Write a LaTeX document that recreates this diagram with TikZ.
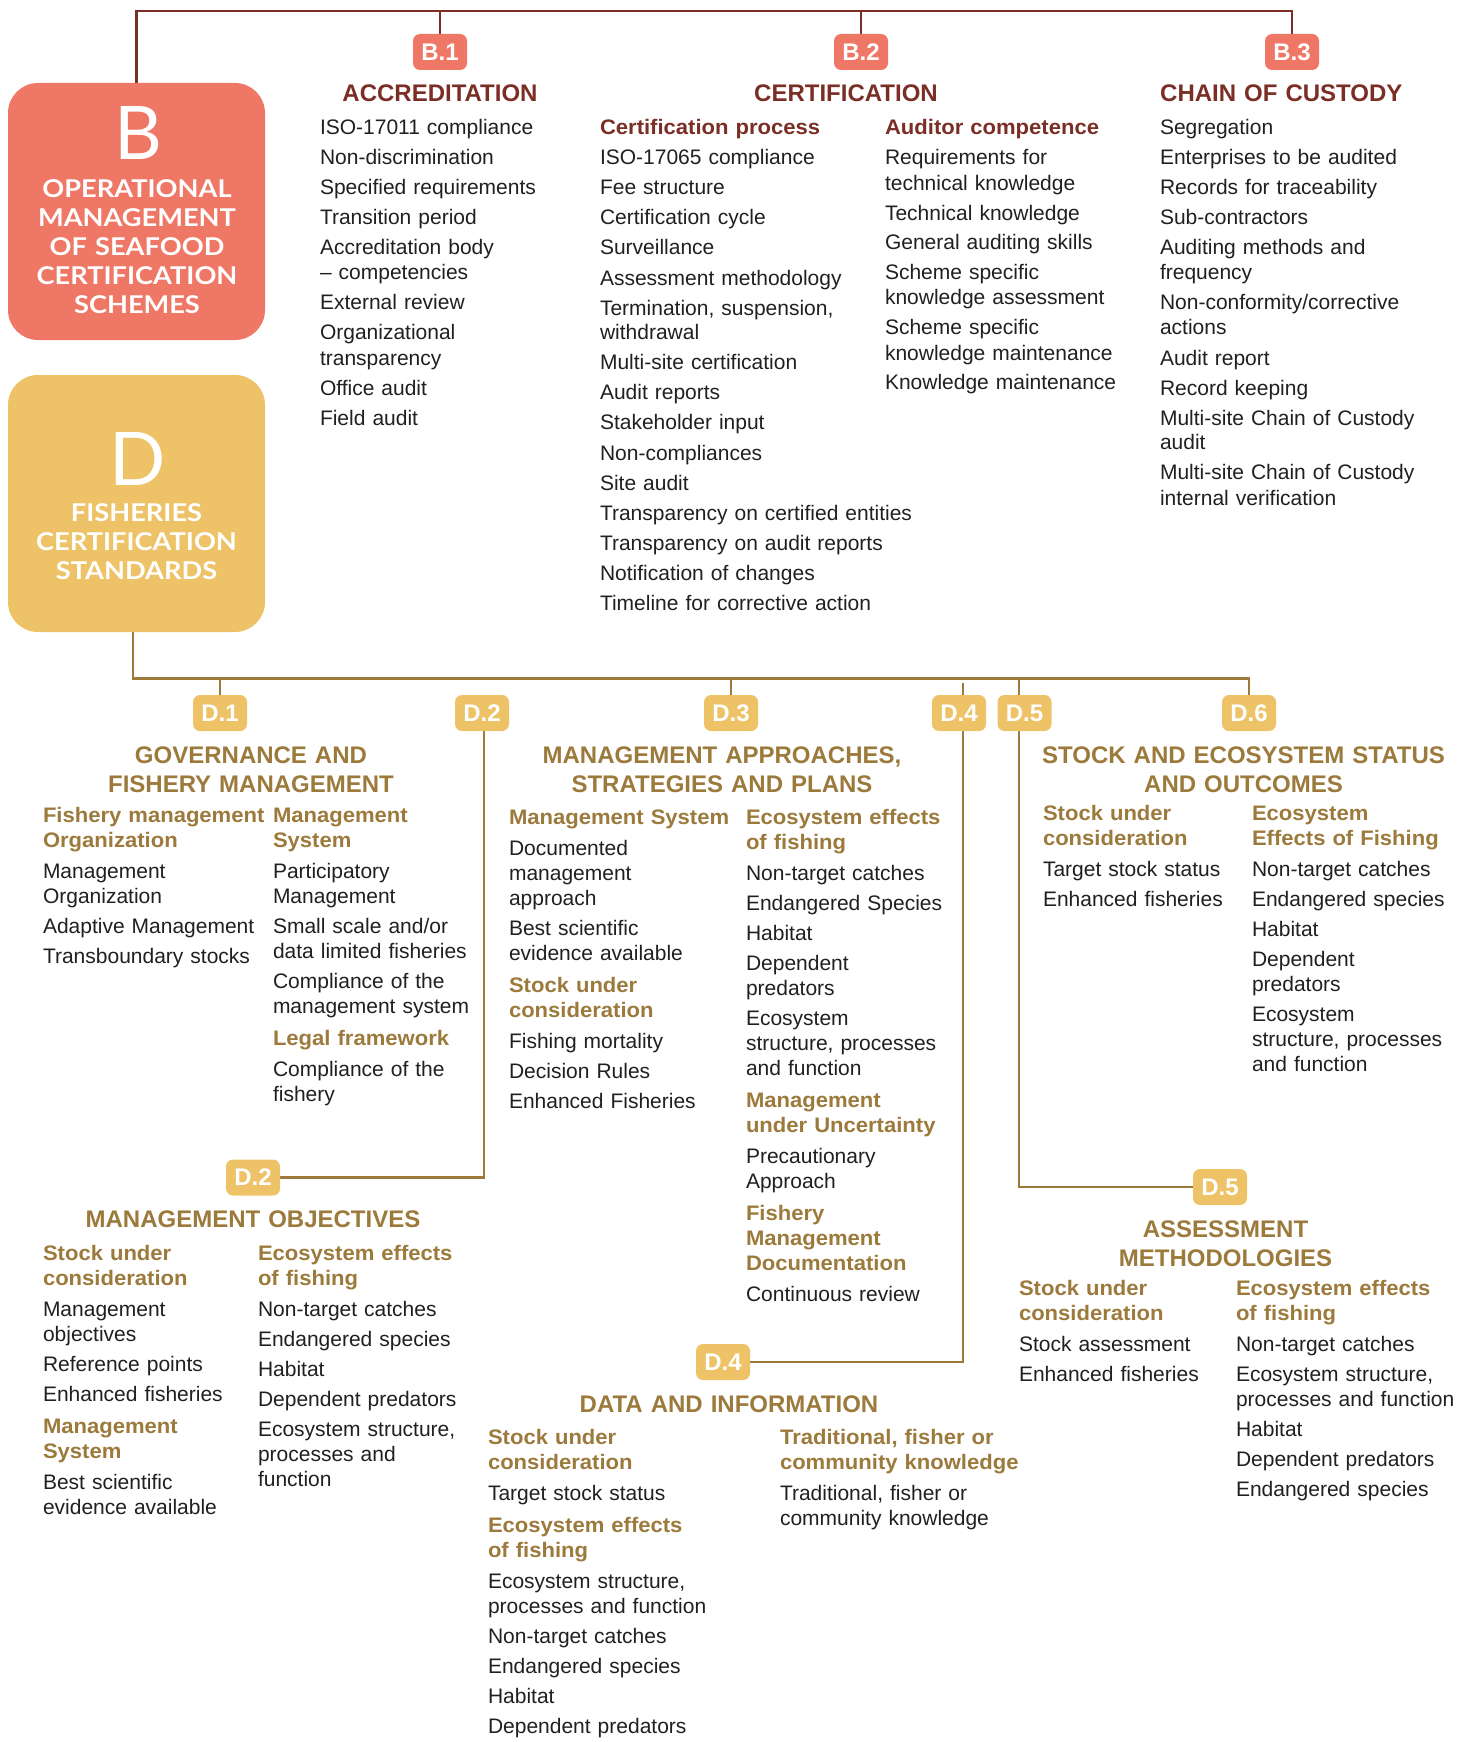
\documentclass[tikz,border=0pt]{standalone}
\usepackage{fontspec}
\setmainfont{Liberation Sans}
\newfontfamily\subfont[FakeStretch=1.05]{Liberation Sans}
\newfontfamily\boxfont{Lato}
\newfontfamily\boxwide[FakeStretch=1.11]{Lato}
\usetikzlibrary{backgrounds}
\definecolor{bsal}{HTML}{EE7766}
\definecolor{dyel}{HTML}{EEC266}
\definecolor{bred}{HTML}{7A2E25}
\definecolor{dgold}{HTML}{9C7A3C}
\definecolor{txt}{HTML}{231F20}
\newcommand\bodyfont{\fontsize{21}{25}\selectfont}
\newcommand\hdfont{\fontsize{24}{29}\selectfont\bfseries}
\newcommand\shB[1]{{\subfont\bfseries\color{bred}#1}}
\newcommand\shD[1]{{\subfont\bfseries\color{dgold}#1}}
\tikzset{
  col/.style={anchor=base west, inner sep=0pt, outer sep=0pt, align=left, text width=#1, font=\bodyfont, text=txt},
  hdB/.style={anchor=base, inner sep=0pt, align=center, text width=#1, font=\hdfont, text=bred},
  hdD/.style={anchor=base, inner sep=0pt, align=center, text width=#1, font=\hdfont, text=dgold},
  badgeB/.style={rounded corners=7pt, fill=bsal, minimum width=54pt, minimum height=36pt, inner sep=0pt, text=white, font=\fontsize{24}{28}\selectfont\bfseries},
  badgeD/.style={rounded corners=7pt, fill=dyel, minimum width=54pt, minimum height=36pt, inner sep=0pt, text=white, font=\fontsize{24}{28}\selectfont\bfseries},
  bigbox/.style={rounded corners=30pt, minimum width=257pt, minimum height=257pt, inner sep=0pt},
  lineB/.style={draw=bred, line width=2.6pt},
  lineD/.style={draw=dgold, line width=2.6pt},
  bigletter/.style={anchor=base, inner sep=0pt, text=white, font=\boxfont\fontsize{74}{74}\selectfont},
  boxtext/.style={anchor=base, inner sep=0pt, align=center, text width=250pt, text=white, font=\boxwide\bfseries\fontsize{24.5}{29}\selectfont},
}
\begin{document}
\begin{tikzpicture}[x=1pt,y=-1pt]
\useasboundingbox (0,0) rectangle (1463,1742);

% ---------- B block ----------
\node[bigbox, fill=bsal] (bbox) at (136.5,211.5) {};
\node[bigletter] (bletter) at (138,159) {B};
\node[boxtext] (btext) at (137,197) {OPERATIONAL\\MANAGEMENT\\OF SEAFOOD\\CERTIFICATION\\SCHEMES};

\node[badgeB] (b1) at (440,52) {B.1};
\node[badgeB] (b2) at (861,52) {B.2};
\node[badgeB] (b3) at (1292,52) {B.3};

\node[hdB=260pt] (hacc) at (440,102) {ACCREDITATION};
\node[hdB=260pt] (hcert) at (846,102) {CERTIFICATION};
\node[hdB=260pt, anchor=base west, align=left] (hcoc) at (1160,102) {CHAIN OF CUSTODY};

\node[col=232pt] (acc) at (320,135) {ISO-17011 compliance\\[5pt]
Non-discrimination\\[5pt]
Specified requirements\\[5pt]
Transition period\\[5pt]
Accreditation body\\
– competencies\\[5pt]
External review\\[5pt]
Organizational\\
transparency\\[5pt]
Office audit\\[5pt]
Field audit};

\node[col=315pt] (cproc) at (600,135) {\shB{Certification process}\\[5pt]
ISO-17065 compliance\\[5pt]
Fee structure\\[5pt]
Certification cycle\\[5pt]
Surveillance\\[5pt]
Assessment methodology\\[5pt]
Termination, suspension,\\
withdrawal\\[5pt]
Multi-site certification\\[5pt]
Audit reports\\[5pt]
Stakeholder input\\[5pt]
Non-compliances\\[5pt]
Site audit\\[5pt]
Transparency on certified entities\\[5pt]
Transparency on audit reports\\[5pt]
Notification of changes\\[5pt]
Timeline for corrective action};

\node[col=240pt] (acomp) at (885,135) {\shB{Auditor competence}\\[5pt]
Requirements for\\
technical knowledge\\[5pt]
Technical knowledge\\[5pt]
General auditing skills\\[5pt]
Scheme specific\\
knowledge assessment\\[5pt]
Scheme specific\\
knowledge maintenance\\[5pt]
Knowledge maintenance};

\node[col=265pt] (coc) at (1160,135) {Segregation\\[5pt]
Enterprises to be audited\\[5pt]
Records for traceability\\[5pt]
Sub-contractors\\[5pt]
Auditing methods and\\
frequency\\[5pt]
Non-conformity/corrective\\
actions\\[5pt]
Audit report\\[5pt]
Record keeping\\[5pt]
Multi-site Chain of Custody\\
audit\\[5pt]
Multi-site Chain of Custody\\
internal verification};

% ---------- D block ----------
\node[bigbox, fill=dyel] (dbox) at (136.5,503.5) {};
\node[bigletter] (dletter) at (138,485) {D};
\node[boxtext] (dtext) at (136.5,521) {FISHERIES\\CERTIFICATION\\STANDARDS};

\node[badgeD] (d1) at (220,713) {D.1};
\node[badgeD] (d2) at (482,713) {D.2};
\node[badgeD] (d3) at (731,713) {D.3};
\node[badgeD] (d4) at (959,713) {D.4};
\node[badgeD] (d5) at (1024.5,713) {D.5};
\node[badgeD] (d6) at (1249,713) {D.6};
\node[badgeD] (d2b) at (253,1177.5) {D.2};
\node[badgeD] (d4b) at (723,1362) {D.4};
\node[badgeD] (d5b) at (1220,1187) {D.5};

\node[hdD=330pt] (hgov) at (251,763) {GOVERNANCE AND\\FISHERY MANAGEMENT};
\node[hdD=380pt] (hmap) at (722,763) {MANAGEMENT APPROACHES,\\STRATEGIES AND PLANS};
\node[hdD=410pt] (hsos) at (1243.5,763) {STOCK AND ECOSYSTEM STATUS\\AND OUTCOMES};
\node[hdD=360pt] (hmo) at (253,1227) {MANAGEMENT OBJECTIVES};
\node[hdD=330pt] (hdi) at (729,1412) {DATA AND INFORMATION};
\node[hdD=240pt] (ham) at (1225.5,1237) {ASSESSMENT\\METHODOLOGIES};

\node[col=226pt] (gov1) at (43,822) {\shD{Fishery management}\\
\shD{Organization}\\[6pt]
Management\\
Organization\\[5pt]
Adaptive Management\\[5pt]
Transboundary stocks};

\node[col=205pt] (gov2) at (273,822) {\shD{Management}\\
\shD{System}\\[6pt]
Participatory\\
Management\\[5pt]
Small scale and/or\\
data limited fisheries\\[5pt]
Compliance of the\\
management system\\[7pt]
\shD{Legal framework}\\[6pt]
Compliance of the\\
fishery};

\node[col=232pt] (map1) at (509,824) {\shD{Management System}\\[6pt]
Documented\\
management\\
approach\\[5pt]
Best scientific\\
evidence available\\[7pt]
\shD{Stock under}\\
\shD{consideration}\\[6pt]
Fishing mortality\\[5pt]
Decision Rules\\[5pt]
Enhanced Fisheries};

\node[col=212pt] (map2) at (746,824) {\shD{Ecosystem effects}\\
\shD{of fishing}\\[6pt]
Non-target catches\\[5pt]
Endangered Species\\[5pt]
Habitat\\[5pt]
Dependent\\
predators\\[5pt]
Ecosystem\\
structure, processes\\
and function\\[7pt]
\shD{Management}\\
\shD{under Uncertainty}\\[6pt]
Precautionary\\
Approach\\[7pt]
\shD{Fishery}\\
\shD{Management}\\
\shD{Documentation}\\[6pt]
Continuous review};

\node[col=200pt] (sos1) at (1043,820) {\shD{Stock under}\\
\shD{consideration}\\[6pt]
Target stock status\\[5pt]
Enhanced fisheries};

\node[col=205pt] (sos2) at (1252,820) {\shD{Ecosystem}\\
\shD{Effects of Fishing}\\[6pt]
Non-target catches\\[5pt]
Endangered species\\[5pt]
Habitat\\[5pt]
Dependent\\
predators\\[5pt]
Ecosystem\\
structure, processes\\
and function};

\node[col=205pt] (mo1) at (43,1260) {\shD{Stock under}\\
\shD{consideration}\\[6pt]
Management\\
objectives\\[5pt]
Reference points\\[5pt]
Enhanced fisheries\\[7pt]
\shD{Management}\\
\shD{System}\\[6pt]
Best scientific\\
evidence available};

\node[col=210pt] (mo2) at (258,1260) {\shD{Ecosystem effects}\\
\shD{of fishing}\\[6pt]
Non-target catches\\[5pt]
Endangered species\\[5pt]
Habitat\\[5pt]
Dependent predators\\[5pt]
Ecosystem structure,\\
processes and\\
function};

\node[col=232pt] (di1) at (488,1444) {\shD{Stock under}\\
\shD{consideration}\\[6pt]
Target stock status\\[7pt]
\shD{Ecosystem effects}\\
\shD{of fishing}\\[6pt]
Ecosystem structure,\\
processes and function\\[5pt]
Non-target catches\\[5pt]
Endangered species\\[5pt]
Habitat\\[5pt]
Dependent predators};

\node[col=250pt] (di2) at (780,1444) {\shD{Traditional, fisher or}\\
\shD{community knowledge}\\[6pt]
Traditional, fisher or\\
community knowledge};

\node[col=205pt] (am1) at (1019,1295) {\shD{Stock under}\\
\shD{consideration}\\[6pt]
Stock assessment\\[5pt]
Enhanced fisheries};

\node[col=225pt] (am2) at (1236,1295) {\shD{Ecosystem effects}\\
\shD{of fishing}\\[6pt]
Non-target catches\\[5pt]
Ecosystem structure,\\
processes and function\\[5pt]
Habitat\\[5pt]
Dependent predators\\[5pt]
Endangered species};

% ---------- connectors ----------
\begin{scope}[on background layer]
\fill[white] (0,0) rectangle (1463,1742);
\coordinate (btop) at (0,11);
\draw[lineB] (bbox.north) -- (bbox.north |- btop) -- (b3.north |- btop) -- (b3.north);
\draw[lineB] (b1.north |- btop) -- (b1.north);
\draw[lineB] (b2.north |- btop) -- (b2.north);

\coordinate (dtop) at (0,678.5);
\coordinate (dsrc) at (133,632);
\draw[lineD] (dsrc) |- (d6.north |- dtop) -- (d6.north);
\draw[lineD] (d1.north |- dtop) -- (d1.north);
\draw[lineD] (d3.north |- dtop) -- (d3.north);
\coordinate (d4x) at (963,683);
\draw[lineD] (d4x) |- (d4b.east);
\coordinate (d5x) at (1019,678.5);
\draw[lineD] (d5x) |- (d5b.west);
\coordinate (d2x) at (484,713);
\draw[lineD] (d2x) |- (d2b.east);
\end{scope}
\end{tikzpicture}
\end{document}
